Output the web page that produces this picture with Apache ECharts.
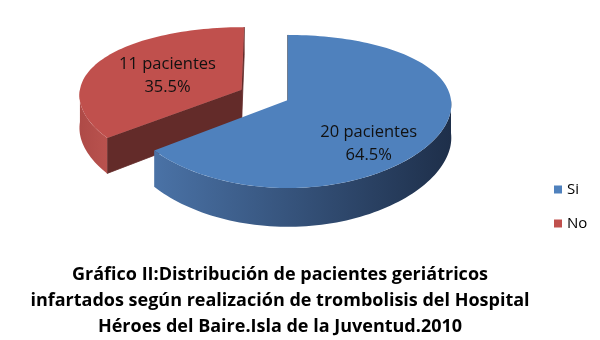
<!DOCTYPE html>
<html>
<head>
<meta charset="utf-8">
<script src="https://cdn.jsdelivr.net/npm/echarts@6/dist/echarts.min.js"></script>
<style>
html,body{margin:0;padding:0;background:#fff;}
#chart{width:600px;height:340px;}
</style>
</head>
<body>
<div id="chart"></div>
<script>
// ---- data ----
const categories = ['Si', 'No'];
const values = [20, 11];
const unitLabel = 'pacientes';
const titleLines = [
  'Gráfico II:Distribución de pacientes geriátricos',
  'infartados según realización de trombolisis del Hospital',
  'Héroes del Baire.Isla de la Juventud.2010'
];

// ---- styles / layout ----
const topColors = ['#4F81BD', '#C0504D'];
const wallColors = [['#4a72a6', '#1e2f4a'], ['#ae4a47', '#b9524e']];
const faceColors = ['#1f3350', '#632b29'];
const explode = [0, 0.32];
const labelShift = [[-1, 25], [4, 3]];
const FONT = '"Open Sans", Lato, sans-serif';
const CX = 288, CY = 100, RX = 163, RY = 74.8, K = 0.15, KX = 0.06, DEPTH = 33;

const total = values.reduce((a, b) => a + b, 0);
const starts = [];
{ let acc = 0; values.forEach(v => { starts.push(acc / total * Math.PI * 2); acc += v; }); }

function P(X, Z, H) {
  const s = 1 / (1 + K * Z), sx = 1 / (1 + KX * Z);
  return [CX + RX * X * sx, CY - RY * Z * s + DEPTH * H * s];
}

function makeRender(i) {
  return function (params, api) {
    const a0 = starts[i];
    const a1 = a0 + values[i] / total * Math.PI * 2;
    const mid = (a0 + a1) / 2;
    const ox = explode[i] * Math.sin(mid), oz = explode[i] * Math.cos(mid);
    const rim = (t, H) => P(ox + Math.sin(t), oz + Math.cos(t), H);
    const apex = H => P(ox, oz, H);
    const arc = (a, b, H) => {
      const n = Math.max(2, Math.ceil((b - a) / 0.03));
      const pts = [];
      for (let k = 0; k <= n; k++) pts.push(rim(a + (b - a) * k / n, H));
      return pts;
    };
    const children = [];
    // radial cut faces
    [[a0, a0 - Math.PI / 2], [a1, a1 + Math.PI / 2]].forEach(([a, nrm]) => {
      if (Math.cos(nrm) <= 0.001) {
        children.push({
          type: 'polygon',
          shape: { points: [apex(0), rim(a, 0), rim(a, 1), apex(1)] },
          style: { fill: faceColors[i], stroke: faceColors[i], lineWidth: 0.8 }
        });
      }
    });
    // outer wall (front facing part)
    const w0 = Math.max(a0, Math.PI / 2), w1 = Math.min(a1, Math.PI * 1.5);
    if (w1 > w0) {
      const top = arc(w0, w1, 0);
      const bot = arc(w0, w1, 1).reverse();
      children.push({
        type: 'polygon',
        shape: { points: top.concat(bot) },
        style: {
          fill: new echarts.graphic.LinearGradient(0, 0, 1, 0, [
            { offset: 0, color: wallColors[i][0] },
            { offset: 1, color: wallColors[i][1] }
          ])
        }
      });
    }
    // top face
    children.push({
      type: 'polygon',
      shape: { points: [apex(0)].concat(arc(a0, a1, 0)) },
      style: { fill: topColors[i] }
    });
    // label
    const f = 0.55;
    const lp = P(ox + f * Math.sin(mid), oz + f * Math.cos(mid), 0);
    children.push({
      type: 'text',
      x: lp[0] + labelShift[i][0],
      y: lp[1] + labelShift[i][1],
      style: {
        text: values[i] + ' ' + unitLabel + '\n' + (values[i] / total * 100).toFixed(1) + '%',
        align: 'center', verticalAlign: 'middle',
        fontSize: 16.5, lineHeight: 23, fontFamily: FONT, fill: '#111'
      }
    });
    return { type: 'group', children: children };
  };
}

const chart = echarts.init(document.getElementById('chart'), null, { renderer: 'canvas' });
chart.setOption({
  animation: false,
  backgroundColor: '#fff',
  title: {
    text: titleLines.join('\n'),
    left: 275, top: 257, textAlign: 'center',
    textStyle: { fontFamily: FONT, fontWeight: 'bold', fontSize: 18, lineHeight: 26, color: '#000' }
  },
  legend: {
    data: categories,
    orient: 'vertical', left: 554, top: 182, padding: 0,
    icon: 'rect', itemWidth: 8, itemHeight: 8, itemGap: 19, itemStyle: {borderWidth: 0},
    textStyle: { fontFamily: FONT, fontSize: 15, color: '#000' }
  },
  series: categories.map((name, i) => ({
    type: 'custom',
    name: name,
    coordinateSystem: 'none',
    z: 10 - i,
    itemStyle: { color: topColors[i] },
    data: [[values[i]]],
    renderItem: makeRender(i)
  }))
});
</script>
</body>
</html>
